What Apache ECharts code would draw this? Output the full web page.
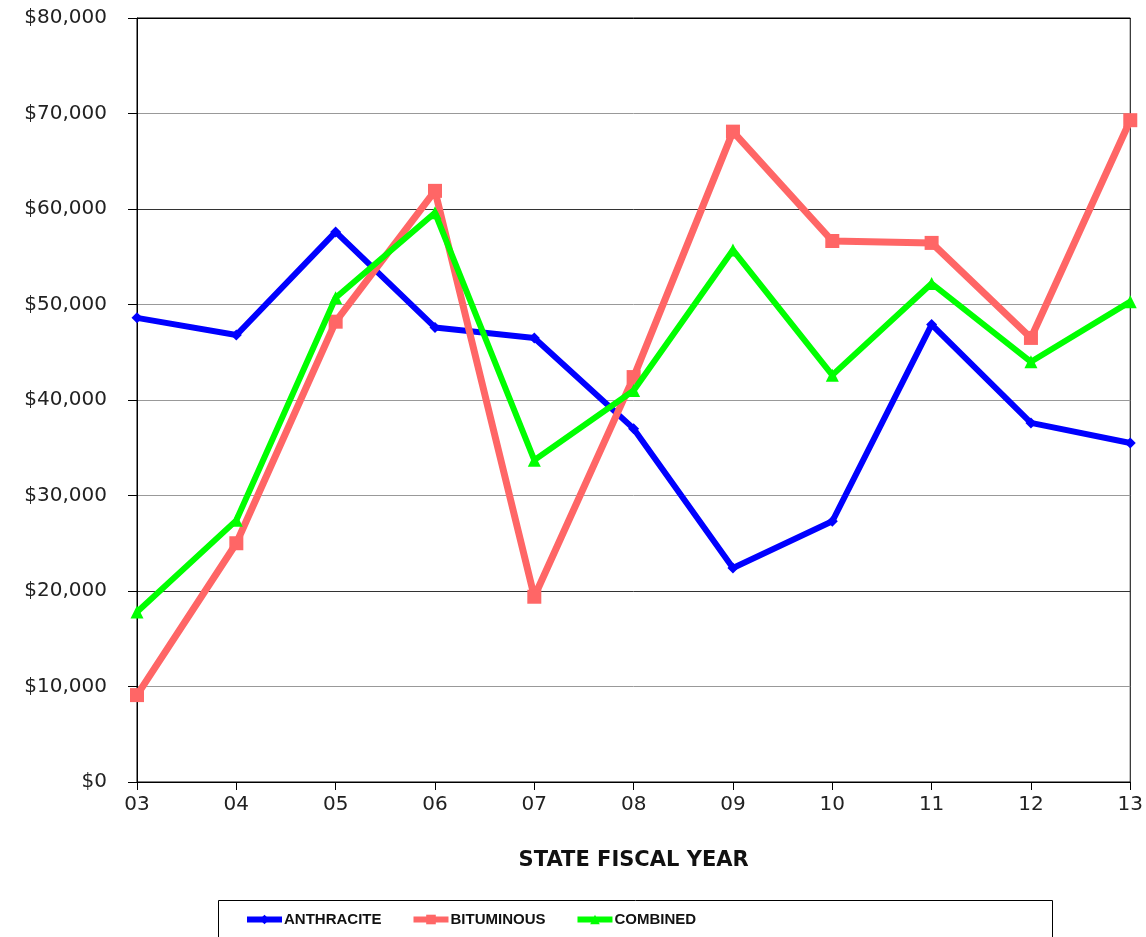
<!DOCTYPE html>
<html>
<head>
<meta charset="utf-8">
<script src="https://cdn.jsdelivr.net/npm/echarts@6/dist/echarts.min.js"></script>
<style>
  html, body { margin: 0; padding: 0; background: #fff; }
  #chart { width: 1146px; height: 937px; }
</style>
</head>
<body>
<div id="chart"></div>
<script>
// fiscal years on the x axis
const years = ["03", "04", "05", "06", "07", "08", "09", "10", "11", "12", "13"];

// values
const anthracite = [48600, 46800, 57600, 47600, 46500, 37000, 22400, 27300, 47900, 37600, 35500];
const bituminous = [9100, 25000, 48200, 61900, 19400, 42400, 68100, 56650, 56450, 46500, 69300];
const combined = [17800, 27400, 50700, 59600, 33700, 41000, 55700, 42600, 52200, 44000, 50300];

const yTicks = [0, 10000, 20000, 30000, 40000, 50000, 60000, 70000, 80000];

const chart = echarts.init(document.getElementById("chart"));

const labelFont = "DejaVu Sans";

const option = {
  animation: false,
  backgroundColor: "#fff",
  grid: {
    left: 137,
    right: 15,
    top: 18,
    bottom: 155,
    show: true,
    borderColor: "#000",
    borderWidth: 1
  },
  xAxis: {
    type: "category",
    data: years,
    boundaryGap: false,
    name: "STATE FISCAL YEAR",
    nameLocation: "middle",
    nameGap: 68,
    nameTextStyle: {
      fontFamily: labelFont,
      fontWeight: "bold",
      fontSize: 21,
      color: "#111"
    },
    axisLine: { lineStyle: { color: "#000", width: 1 } },
    axisTick: { show: true, alignWithLabel: true, length: 8, lineStyle: { color: "#000" } },
    axisLabel: { fontFamily: labelFont, fontSize: 20, color: "#222", margin: 13 },
    splitLine: { show: false }
  },
  yAxis: {
    type: "value",
    min: yTicks[0],
    max: yTicks[yTicks.length - 1],
    interval: 10000,
    axisLine: { show: true, lineStyle: { color: "#000", width: 1 } },
    axisTick: { show: true, length: 9, lineStyle: { color: "#000" } },
    axisLabel: {
      fontFamily: labelFont,
      fontSize: 20,
      color: "#222",
      margin: 30,
      formatter: v => "$" + v.toLocaleString("en-US")
    },
    splitLine: {
      show: true,
      lineStyle: {
        width: 1,
        color: ["#000", "#999", "#333", "#999", "#999", "#999", "#333", "#999", "#000"]
      }
    }
  },
  legend: {
    left: 239,
    top: 907,
    itemWidth: 35,
    itemHeight: 12,
    itemGap: 29,
    lineStyle: { width: 6 },
    textStyle: {
      fontFamily: "Liberation Sans",
      fontWeight: "bold",
      fontSize: 15,
      color: "#111",
      padding: [0, 0, 0, -3]
    },
    data: ["ANTHRACITE", "BITUMINOUS", "COMBINED"]
  },
  graphic: [
    {
      type: "rect",
      shape: { x: 218.5, y: 900.5, width: 834, height: 60 },
      style: { fill: "none", stroke: "#000", lineWidth: 1 },
      silent: true
    }
  ],
  series: [
    {
      name: "ANTHRACITE",
      type: "line",
      data: anthracite,
      color: "#0000ff",
      lineStyle: { width: 6, color: "#0000ff" },
      symbol: "diamond",
      symbolSize: 11,
      itemStyle: { color: "#0000ff" },
      z: 2
    },
    {
      name: "BITUMINOUS",
      type: "line",
      data: bituminous,
      color: "#ff6666",
      lineStyle: { width: 7, color: "#ff6666" },
      symbol: "rect",
      symbolSize: 14,
      itemStyle: { color: "#ff6666" },
      z: 3
    },
    {
      name: "COMBINED",
      type: "line",
      data: combined,
      color: "#00ff00",
      lineStyle: { width: 6, color: "#00ff00" },
      symbol: "triangle",
      symbolSize: 13,
      itemStyle: { color: "#00ff00" },
      z: 4
    }
  ]
};

chart.setOption(option);
window.addEventListener("resize", () => chart.resize());
</script>
</body>
</html>
